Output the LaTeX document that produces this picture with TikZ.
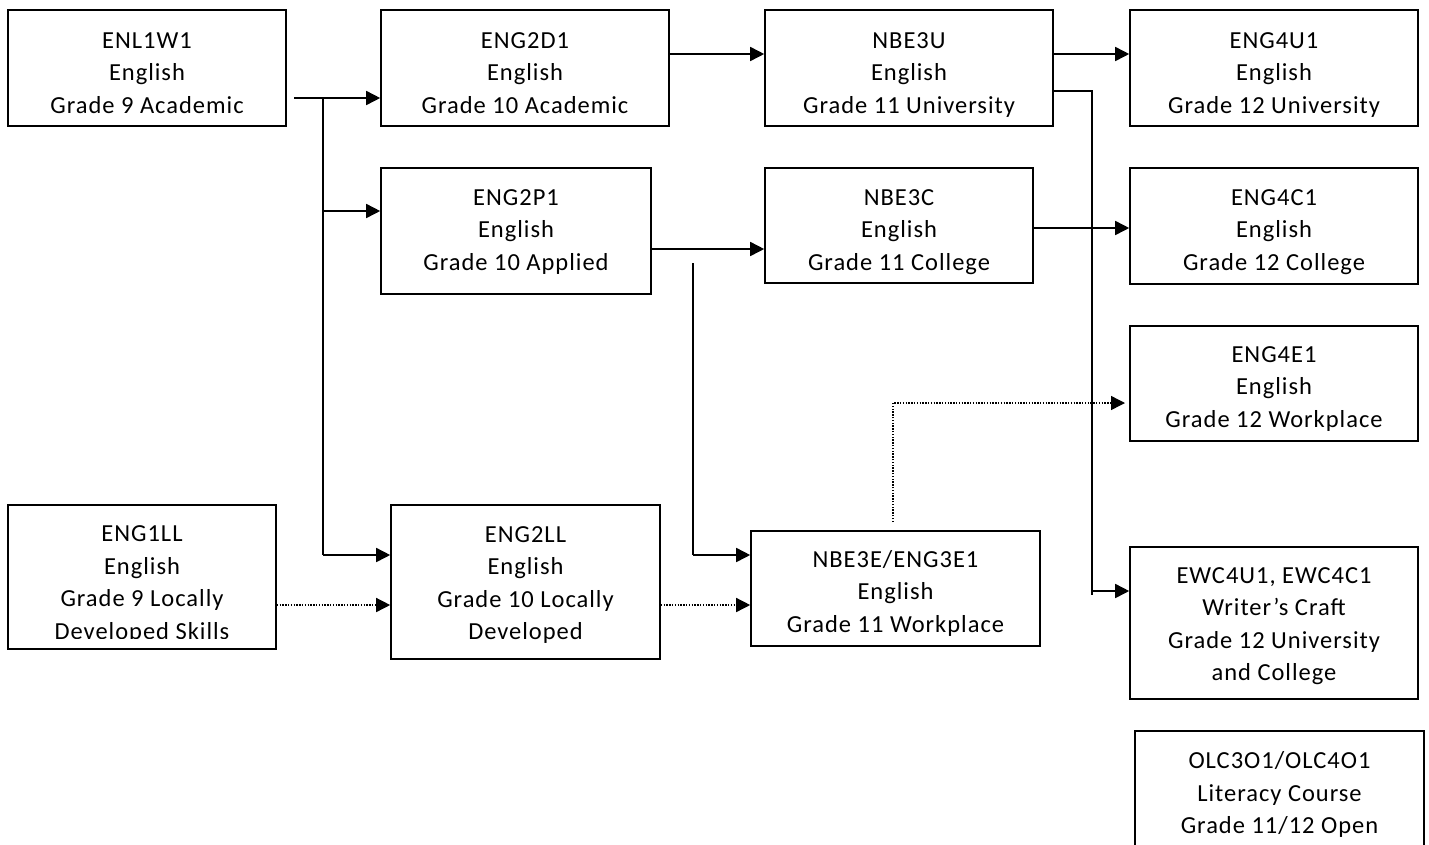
\documentclass[tikz,border=0pt]{standalone}
\usepackage{fontspec}
\setmainfont{Carlito}[LetterSpace=4]
\usetikzlibrary{arrows.meta}
\newcommand\boxfs{\fontsize{24.5}{32.5}\selectfont}
\tikzset{
  box/.style={draw, line width=1.6pt, inner sep=0pt},
  txt/.style={align=center, font=\boxfs, inner sep=0pt,
    execute at begin node=\strut, execute at end node=\strut},
  conn/.style={line width=1.6pt},
  arr/.style={line width=1.6pt, -{Triangle[length=14pt,width=14pt]}},
  dotarr/.style={line width=1.4pt, dash pattern=on 1.4pt off 1.4pt, -{Triangle[length=14pt,width=14pt]}}
}
\begin{document}
\begin{tikzpicture}[x=1pt,y=-1pt]
\clip (0,0) rectangle (1429,844);
\useasboundingbox (0,0) rectangle (1429,844);
\fill[white] (0,0) rectangle (1429,844);

% row 1
\node[box, minimum width=278pt, minimum height=116pt] (enl) at (147,68) {};
\node[txt] (enlt) at (147,77.5) {ENL1W1\\English\\Grade 9 Academic};
\node[box, minimum width=288pt, minimum height=116pt] (eng2d) at (525,68) {};
\node[txt] (eng2dt) at (525,77.5) {ENG2D1\\English\\Grade 10 Academic};
\node[box, minimum width=288pt, minimum height=116pt] (nbe3u) at (909,68) {};
\node[txt] (nbe3ut) at (909,77.5) {NBE3U\\English\\Grade 11 University};
\node[box, minimum width=288pt, minimum height=116pt] (eng4u) at (1274,68) {};
\node[txt] (eng4ut) at (1274,77.5) {ENG4U1\\English\\Grade 12 University};
% row 2
\node[box, minimum width=270pt, minimum height=126pt] (eng2p) at (516,231) {};
\node[txt] (eng2pt) at (516,234.5) {ENG2P1\\English\\Grade 10 Applied};
\node[box, minimum width=268pt, minimum height=115pt] (nbe3c) at (899,225.5) {};
\node[txt] (nbe3ct) at (899,234.5) {NBE3C\\English\\Grade 11 College};
\node[box, minimum width=288pt, minimum height=116pt] (eng4c) at (1274,226) {};
\node[txt] (eng4ct) at (1274,234.5) {ENG4C1\\English\\Grade 12 College};
% row 3
\node[box, minimum width=288pt, minimum height=115pt] (eng4e) at (1274,383.5) {};
\node[txt] (eng4et) at (1274,391.5) {ENG4E1\\English\\Grade 12 Workplace};
% row 4
\node[box, minimum width=268pt, minimum height=144pt] (eng1ll) at (142,577) {};
\begin{scope}
  \clip (eng1ll.north west) rectangle ([yshift=11pt]eng1ll.south east);
  \node[txt] (eng1llt) at (142,587.5) {ENG1LL\\English\\Grade 9 Locally\\Developed Skills};
\end{scope}
\node[box, minimum width=269pt, minimum height=154pt] (eng2ll) at (525.5,582) {};
\node[txt] (eng2llt) at (525.5,588) {ENG2LL\\English\\Grade 10 Locally\\Developed};
\node[box, minimum width=289pt, minimum height=115pt] (nbe3e) at (895.5,588.5) {};
\node[txt] (nbe3et) at (895.5,596) {NBE3E/ENG3E1\\English\\Grade 11 Workplace};
\node[box, minimum width=288pt, minimum height=152pt] (ewc) at (1274,623) {};
\node[txt] (ewct) at (1274,629) {EWC4U1, EWC4C1\\Writer’s Craft\\Grade 12 University\\and College};
\node[box, minimum width=289pt, minimum height=116pt] (olc) at (1279.5,789) {};
\node[txt] (olct) at (1279.5,797.5) {OLC3O1/OLC4O1\\Literacy Course\\Grade 11/12 Open};

% junction coordinates
\coordinate (s1) at (294,98);
\coordinate (t1) at (323,98);
\coordinate (t2) at (323,211);
\coordinate (t3) at (323,555);
\coordinate (v1) at (693,263);
\coordinate (v2) at (693,555);
\coordinate (u1) at (1092,91);
\coordinate (u2) at (1092,591);
\coordinate (w1) at (893,522);
\coordinate (w2) at (893,403);
\coordinate (w3) at (1125,403);

% connectors
\draw[arr] (s1) -- (eng2d.west |- s1);
\draw[conn] (t1) -- (t3);
\draw[arr] (t2) -- (eng2p.west |- t2);
\draw[arr] (t3) -- (eng2ll.west |- t3);
\draw[arr] ([yshift=14pt]eng2d.east) -- ([yshift=14pt]nbe3u.west);
\draw[arr] ([yshift=14pt]nbe3u.east) -- ([yshift=14pt]eng4u.west);
\draw[conn] ([yshift=-23pt]nbe3u.east) -- (u1) -- ([yshift=-4pt]u2);
\draw[arr] (u2) -- (ewc.west |- u2);
\draw[arr] ([yshift=-2.5pt]nbe3c.east) -- (eng4c.west |- 0,228);
\draw[arr] ([yshift=-18pt]eng2p.east) -- (nbe3c.west |- 0,249);
\draw[conn] (v1) -- (v2);
\draw[arr] (v2) -- (nbe3e.west |- v2);
\draw[dotarr] ([yshift=-28pt]eng1ll.east) -- (eng2ll.west |- 0,605);
\draw[dotarr] ([yshift=-23pt]eng2ll.east) -- (nbe3e.west |- 0,605);
\draw[dotarr] (w1) -- (w2) -- (w3);
\end{tikzpicture}
\end{document}
